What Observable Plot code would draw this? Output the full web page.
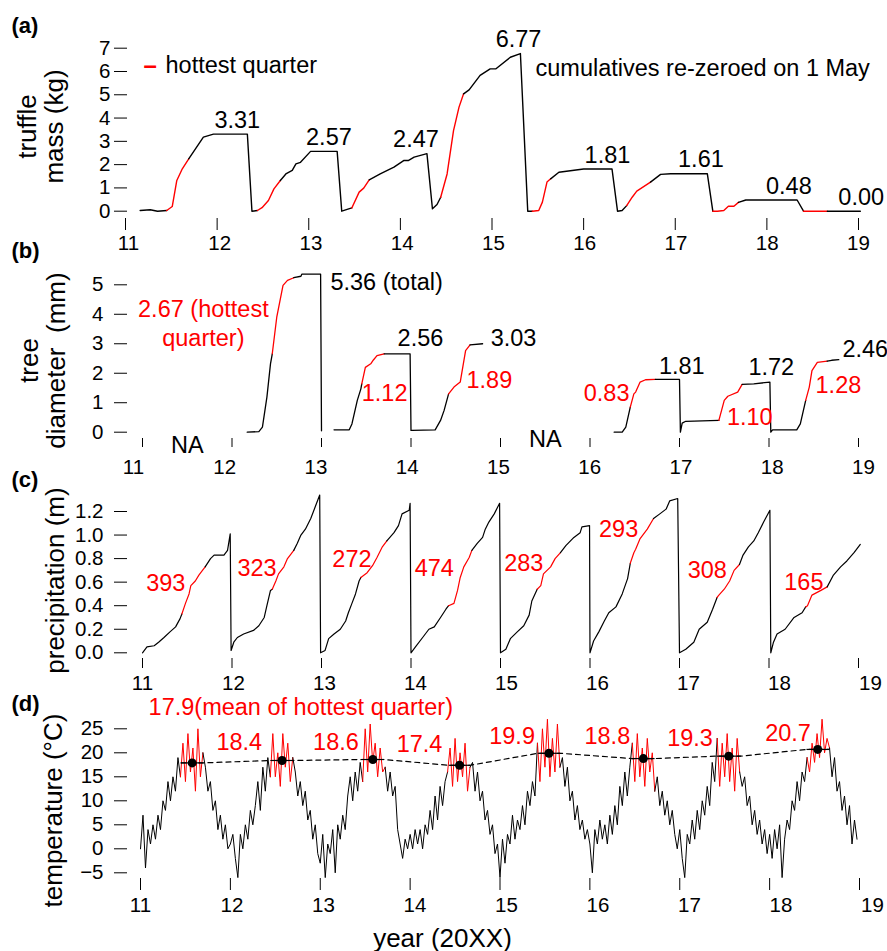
<!DOCTYPE html>
<html><head><meta charset="utf-8">
<script src="https://cdn.jsdelivr.net/npm/d3@7"></script>
<script src="https://cdn.jsdelivr.net/npm/@observablehq/plot@0.6"></script>
<style>
html,body{margin:0;padding:0;background:#fff;}
#chart{position:relative;width:887px;height:951px;}
#chart svg{position:absolute;left:0;overflow:visible;background:transparent !important;}
</style></head><body><div id="chart"></div>
<script>
// ---------- shared ----------
const yearTicks = [11, 12, 13, 14, 15, 16, 17, 18, 19];
const hotQuarterStart = [11.45, 12.45, 13.46, 14.43, 15.42, 16.47, 17.41, 18.41];
const hotQuarterEnd   = [11.70, 12.70, 13.71, 14.67, 15.67, 16.72, 17.68, 18.66];

// ---------- (a) truffle mass ----------
const truffleYear = [11.16,11.27,11.35,11.45,11.51,11.56,11.62,11.69,11.85,11.96,12.33,12.38,12.44,12.49,12.56,12.62,12.69,12.75,12.82,12.86,12.91,13.02,13.31,13.36,13.47,13.55,13.60,13.66,13.78,13.93,14.04,14.09,14.15,14.29,14.35,14.40,14.44,14.51,14.58,14.64,14.69,14.75,14.87,14.98,15.04,15.20,15.31,15.39,15.44,15.51,15.55,15.60,15.64,15.73,16.00,16.31,16.37,16.42,16.47,16.53,16.58,16.73,16.84,16.95,17.35,17.41,17.46,17.53,17.58,17.64,17.69,17.77,18.33,18.40,18.45,18.66,19.02];
const truffleKg   = [0.03,0.06,0.00,0.03,0.20,1.32,1.82,2.25,3.18,3.31,3.31,0.00,0.03,0.15,0.46,0.96,1.32,1.60,1.75,2.03,2.10,2.57,2.57,0.00,0.14,0.82,0.99,1.35,1.60,1.89,2.18,2.18,2.32,2.47,0.10,0.29,0.60,1.60,3.46,4.47,5.04,5.21,5.83,6.11,6.11,6.61,6.77,0.00,0.00,0.03,0.39,1.25,1.39,1.67,1.81,1.81,0.00,0.03,0.24,0.60,0.86,1.25,1.58,1.61,1.61,0.00,0.00,0.03,0.21,0.21,0.38,0.48,0.48,0.00,0.00,0.00,0.00];
const truffleTotals = [3.31, 2.57, 2.47, 6.77, 1.81, 1.61, 0.48, 0.00];
const truffleLabelYear = [12.22, 13.22, 14.17, 15.29, 16.26, 17.28, 18.24, 19.03];
const truffleTicks = [0, 1, 2, 3, 4, 5, 6, 7];

// ---------- (b) tree diameter (three measured pieces) ----------
const treeYear = [
  [12.17,12.30,12.34,12.39,12.43,12.45,12.50,12.57,12.62,12.69,12.77,12.78,12.99,13.00],
  [13.14,13.31,13.34,13.40,13.44,13.45,13.49,13.55,13.58,13.62,13.70,13.99,14.00,14.01,14.27,14.33,14.37,14.42,14.48,14.55,14.61,14.66,14.80],
  [16.27,16.36,16.40,16.45,16.49,16.51,16.56,16.62,16.73,17.00,17.01,17.03,17.07,17.44,17.50,17.54,17.65,17.70,17.83,18.01,18.02,18.04,18.31,18.35,18.41,18.45,18.48,18.54,18.65,18.70,18.78]
];
const treeMm = [
  [0.00,0.02,0.17,1.19,2.32,2.66,3.90,4.98,5.15,5.24,5.29,5.36,5.36,0.05],
  [0.08,0.08,0.28,1.08,1.47,1.64,2.20,2.32,2.45,2.60,2.66,2.66,0.06,0.06,0.08,0.40,0.74,1.30,1.53,1.70,2.77,2.96,3.00],
  [0.00,0.00,0.17,0.85,1.30,1.36,1.70,1.78,1.79,1.79,0.00,0.31,0.37,0.40,1.08,1.22,1.36,1.62,1.64,1.70,0.00,0.08,0.08,0.28,1.08,1.53,2.09,2.37,2.41,2.44,2.46]
];
const treeTotalText = ["5.36 (total)", "2.56", "3.03", "1.81", "1.72", "2.46"];
const treeTotalX = [13.10, 13.85, 14.89, 16.77, 17.77, 18.82];
const treeTotalY = [5.08, 3.18, 3.18, 2.23, 2.19, 2.80];
const treeHotText = ["1.12", "1.89", "0.83", "1.10", "1.28"];
const treeHotX = [13.45, 14.62, 15.93, 17.53, 18.52];
const treeHotY = [1.31, 1.75, 1.31, 0.50, 1.58];
const treeNoteText = ["2.67 (hottest\nquarter)"];
const treeNAX = [11.5, 15.5];
const treeNAY = [-0.45, -0.25];
const treeTicks = [0, 1, 2, 3, 4, 5];

// ---------- (c) precipitation ----------
const precipYear = [11.00,11.05,11.13,11.18,11.24,11.31,11.37,11.42,11.44,11.48,11.52,11.54,11.59,11.63,11.67,11.70,11.76,11.80,11.91,11.95,11.98,11.99,
 12.02,12.06,12.13,12.24,12.30,12.36,12.39,12.43,12.45,12.49,12.52,12.58,12.62,12.65,12.69,12.73,12.77,12.82,12.88,12.93,12.98,12.99,
 13.04,13.08,13.14,13.21,13.27,13.30,13.34,13.38,13.42,13.44,13.51,13.57,13.62,13.68,13.73,13.81,13.86,13.90,13.98,13.99,14.00,
 14.05,14.13,14.20,14.26,14.33,14.39,14.42,14.48,14.52,14.55,14.59,14.65,14.68,14.74,14.80,14.83,14.87,14.93,14.99,15.00,
 15.06,15.11,15.19,15.26,15.32,15.35,15.41,15.45,15.48,15.56,15.61,15.67,15.73,15.82,15.89,15.91,15.995,16.00,
 16.04,16.10,16.16,16.21,16.29,16.36,16.42,16.45,16.49,16.51,16.56,16.64,16.71,16.78,16.85,16.89,16.98,17.00,
 17.07,17.16,17.22,17.31,17.37,17.42,17.44,17.50,17.56,17.61,17.67,17.71,17.77,17.83,17.88,17.94,18.01,18.02,
 18.05,18.09,18.18,18.28,18.37,18.41,18.43,18.48,18.58,18.65,18.72,18.80,18.87,18.95,19.02];
const precipM = [0.00,0.05,0.06,0.09,0.13,0.18,0.22,0.29,0.33,0.42,0.50,0.57,0.61,0.66,0.70,0.73,0.80,0.83,0.83,0.87,1.01,0.02,
 0.09,0.13,0.16,0.19,0.23,0.30,0.40,0.53,0.54,0.61,0.67,0.73,0.80,0.83,0.87,0.93,1.00,1.05,1.14,1.24,1.34,0.00,
 0.02,0.12,0.16,0.20,0.27,0.34,0.42,0.50,0.61,0.64,0.68,0.74,0.81,0.90,0.95,1.02,1.08,1.18,1.21,1.27,0.00,
 0.05,0.13,0.20,0.22,0.30,0.37,0.40,0.42,0.53,0.64,0.73,0.81,0.87,0.93,0.98,1.05,1.11,1.18,1.27,0.00,
 0.03,0.12,0.18,0.23,0.32,0.44,0.54,0.57,0.67,0.73,0.80,0.85,0.91,0.98,1.02,1.07,1.08,0.00,
 0.10,0.18,0.27,0.34,0.39,0.50,0.63,0.76,0.85,0.88,0.97,1.05,1.14,1.18,1.22,1.29,1.31,0.00,
 0.03,0.09,0.20,0.26,0.37,0.47,0.49,0.54,0.61,0.70,0.75,0.83,0.90,0.95,1.02,1.11,1.21,0.00,
 0.09,0.16,0.20,0.30,0.34,0.39,0.40,0.49,0.53,0.56,0.66,0.73,0.78,0.85,0.92];
const precipHotMm = [393, 323, 272, 474, 283, 293, 308, 165];
const precipLabelX = [11.26, 12.28, 13.34, 14.26, 15.26, 16.32, 17.31, 18.39];
const precipLabelY = [0.59, 0.72, 0.79, 0.72, 0.76, 1.05, 0.70, 0.60];
const precipTicks = [0, 0.2, 0.4, 0.6, 0.8, 1.0, 1.2];

// ---------- (d) temperature (one value every 1/36 year from 2011) ----------
const temp2011 = [0,7,-4,4,1,5,2,7,4,10,8,14,10,15,12,19,15,22,14,24,16,21,12,25,15,20,17,12,14,8,10,4,7,2,5,0];
const temp2012 = [1,3,-2,-6,3,0,5,2,8,5,9,14,8,17,12,19,15,24,15,20,13,24,17,22,14,19,16,11,14,9,12,6,8,2,5,-1];
const temp2013 = [-3,3,-6,1,-1,4,-5,5,2,7,4,11,15,10,16,12,18,14,25,16,26,18,22,15,21,16,17,12,16,11,13,4,1,-2,2,0];
const temp2014 = [3,0,4,1,4,0,5,3,8,4,11,6,13,9,14,16,21,13,23,14,20,15,22,12,17,18,12,16,10,12,6,8,3,5,-1,1];
const temp2015 = [-6,2,-3,3,1,7,2,6,4,9,5,12,9,14,11,22,14,25,17,27,15,23,16,26,17,19,13,17,10,12,6,9,4,6,2,4];
const temp2016 = [1,-5,4,1,6,2,5,1,7,3,9,5,13,9,16,11,17,22,14,24,15,21,13,23,16,20,12,15,9,12,7,10,5,8,3,0];
const temp2017 = [4,-2,-6,3,1,6,2,8,4,10,7,13,9,18,14,23,13,22,15,24,14,21,12,23,16,13,15,9,11,5,8,3,6,1,4,-1];
const temp2018 = [3,-2,4,0,5,-6,2,6,4,10,8,14,10,16,14,19,16,22,18,24,19,27,20,23,21,15,19,12,14,8,11,5,9,1,6,2];
const tempStart = 11, tempPerYear = 36;
const hotMeans = [17.9, 18.4, 18.6, 17.4, 19.9, 18.8, 19.3, 20.7];
const hotMeanLabelX = [11.09, 11.845, 12.92, 13.85, 14.88, 15.94, 16.86, 17.95];
const hotMeanLabelY = [29.5, 22.25, 22.25, 21.7, 23.4, 23.3, 22.9, 24.1];
const tempTicks = [-5, 0, 5, 10, 15, 20, 25];

// ---------- helpers ----------
const RED = "#ff0000";
const FONT = "'Liberation Sans', Arial, Helvetica, sans-serif";
const W = 887, AX = 127;
const isHot = t => hotQuarterStart.some((a, i) => t >= a && t <= hotQuarterEnd[i]);
function splitHot(xs, ys, piece) {
  const rows = [];
  let seg = -1, cur = null;
  for (let k = 0; k < xs.length - 1; k++) {
    const h = isHot((xs[k] + xs[k + 1]) / 2);
    if (h !== cur) { seg++; cur = h; rows.push({x: xs[k], y: ys[k], seg: piece + "-" + seg, hot: h}); }
    rows.push({x: xs[k + 1], y: ys[k + 1], seg: piece + "-" + seg, hot: h});
  }
  return rows;
}
function hotLine(rows, sw) {
  return Plot.line(rows, {x: "x", y: "y", z: "seg", stroke: d => d.hot ? RED : "black", strokeWidth: sw, strokeLinejoin: "round"});
}
function yearLabels(pxStart, pxStep, xRange, dy) {
  const toVal = d => 11 + (pxStart + (d - 11) * pxStep - xRange[0]) / (xRange[1] - xRange[0]) * 8;
  return Plot.text(yearTicks, {x: toVal, text: d => String(d), frameAnchor: "bottom", textAnchor: "middle", lineAnchor: "middle", dy, fontSize: 20.5});
}
function corner(text, dx, dy, extra) {
  return Plot.text([text], Object.assign({frameAnchor: "top-left", dx: dx - AX, dy, textAnchor: "start", lineAnchor: "middle"}, extra));
}
function yTitle(text, cx, cy) {
  return Plot.text([text], {frameAnchor: "top-left", dx: cx - AX, dy: cy, rotate: -90, textAnchor: "middle", lineAnchor: "middle", fontSize: 26, lineHeight: 1.05});
}
function place(top, svg) {
  svg.style.top = top + "px";
  document.getElementById("chart").appendChild(svg);
}
const intFmt = d => String(d);
const base = {width: W, marginLeft: AX, marginTop: 0, color: {type: "identity"},
  style: {fontFamily: FONT, fontSize: "20.5px", color: "black", background: "transparent", overflow: "visible"}};

// ---------- panel (a) ----------
const xA = [125, 858];
place(0, Plot.plot({...base, height: 256, marginRight: W - xA[1], marginBottom: 38,
  x: {domain: [11, 19], range: xA}, y: {domain: [0, 7], range: [210.7, 47.7]},
  marks: [
    Plot.axisY({ticks: truffleTicks, tickSize: 13, tickPadding: 4, tickFormat: intFmt, label: null, fontSize: 20.5}),
    Plot.axisX({ticks: yearTicks, tickSize: 12, fill: "none", label: null}),
    yearLabels(128, 91.25, xA, 25),
    hotLine(splitHot(truffleYear, truffleKg, "a"), 1.4),
    Plot.text(truffleTotals, {x: (d, i) => truffleLabelYear[i], y: d => d, dy: -14, text: d => d.toFixed(2), fontSize: 23.5, textAnchor: "middle"}),
    corner("–", 143, 65, {fill: RED, fontWeight: "bold", fontSize: 24}),
    corner("hottest quarter", 165, 65, {fontSize: 23.5}),
    corner("cumulatives re-zeroed on 1 May", 535, 68, {fontSize: 23.5}),
    corner("(a)", 11, 25, {fontWeight: "bold", fontSize: 22}),
    yTitle("truffle\nmass (kg)", 40, 126)
  ]}));

// ---------- panel (b) ----------
const xB = [142, 858];
place(238, Plot.plot({...base, height: 240, marginRight: W - xB[1], marginBottom: 40,
  x: {domain: [11, 19], range: xB}, y: {domain: [0, 5], range: [193.7, 46.3]},
  marks: [
    Plot.axisY({ticks: treeTicks, tickSize: 13, tickPadding: 11, tickFormat: intFmt, label: null, fontSize: 20.5}),
    Plot.axisX({ticks: yearTicks, tickSize: 9, fill: "none", label: null}),
    yearLabels(133, 91.25, xB, 29),
    ...treeYear.map((xs, p) => hotLine(splitHot(xs, treeMm[p], "b" + p), 1.3)),
    Plot.text(treeTotalText, {x: (d, i) => treeTotalX[i], y: (d, i) => treeTotalY[i], textAnchor: "start", fontSize: 23.5}),
    Plot.text(treeHotText, {x: (d, i) => treeHotX[i], y: (d, i) => treeHotY[i], textAnchor: "start", fontSize: 23.5, fill: RED}),
    Plot.text(treeNoteText, {x: 11.68, y: 3.74, textAnchor: "middle", fontSize: 23.5, fill: RED, lineHeight: 1.24}),
    Plot.text(treeNAX, {x: d => d, y: (d, i) => treeNAY[i], text: () => "NA", fontSize: 23.5}),
    corner("(b)", 11, 12, {fontWeight: "bold", fontSize: 22}),
    yTitle("tree\ndiameter  (mm)", 42, 122)
  ]}));

// ---------- panel (c) ----------
const xC = [142, 858];
place(468, Plot.plot({...base, height: 226, marginRight: W - xC[1], marginBottom: 36,
  x: {domain: [11, 19], range: xC}, y: {domain: [0, 1.2], range: [184.3, 43]},
  marks: [
    Plot.axisY({ticks: precipTicks, tickSize: 13, tickPadding: 11, tickFormat: d => d.toFixed(1), label: null, fontSize: 20.5}),
    Plot.axisX({ticks: yearTicks, tickSize: 10, fill: "none", label: null}),
    yearLabels(142, 91, xC, 25),
    hotLine(splitHot(precipYear, precipM, "c"), 1.2),
    Plot.text(precipHotMm, {x: (d, i) => precipLabelX[i], y: (d, i) => precipLabelY[i], text: d => String(d), textAnchor: "middle", fontSize: 23.5, fill: RED}),
    corner("(c)", 11, 11, {fontWeight: "bold", fontSize: 22}),
    yTitle("precipitation (m)", 55, 112)
  ]}));

// ---------- panel (d) ----------
const xD = [140, 859];
const tempValues = [].concat(temp2011, temp2012, temp2013, temp2014, temp2015, temp2016, temp2017, temp2018);
const tempYear = tempValues.map((_, i) => tempStart + i / tempPerYear);
const meanPath = hotMeans.flatMap((m, i) => [{x: hotQuarterStart[i], y: m}, {x: hotQuarterEnd[i], y: m}]);
place(690, Plot.plot({...base, height: 261, marginRight: W - xD[1], marginBottom: 73,
  x: {domain: [11, 19], range: xD}, y: {domain: [0, 25], range: [158.3, 38.3]},
  marks: [
    Plot.axisY({ticks: tempTicks, tickSize: 13, tickPadding: 11, label: null, fontSize: 20.5}),
    Plot.axisX({ticks: yearTicks, tickSize: 12, fill: "none", label: null}),
    yearLabels(140, 91.5, xD, 27),
    hotLine(splitHot(tempYear, tempValues, "d"), 1),
    Plot.line(meanPath, {x: "x", y: "y", stroke: "black", strokeWidth: 1.2, strokeDasharray: "5,4"}),
    Plot.link(hotMeans, {x1: (d, i) => hotQuarterStart[i], x2: (d, i) => hotQuarterEnd[i], y1: d => d, y2: d => d, stroke: "black", strokeWidth: 1.2}),
    Plot.dot(hotMeans, {x: (d, i) => (hotQuarterStart[i] + hotQuarterEnd[i]) / 2, y: d => d, r: 4.5, fill: "black", stroke: "none"}),
    Plot.text(hotMeans, {x: (d, i) => hotMeanLabelX[i], y: (d, i) => hotMeanLabelY[i], text: (d, i) => d.toFixed(1) + (i === 0 ? "(mean of hottest quarter)" : ""), textAnchor: "start", fontSize: 23.5, fill: RED}),
    corner("(d)", 11, 13, {fontWeight: "bold", fontSize: 22}),
    yTitle("temperature (°C)", 53, 120),
    corner("year (20XX)", 442, 248, {fontSize: 26, textAnchor: "middle"})
  ]}));
</script></body></html>
